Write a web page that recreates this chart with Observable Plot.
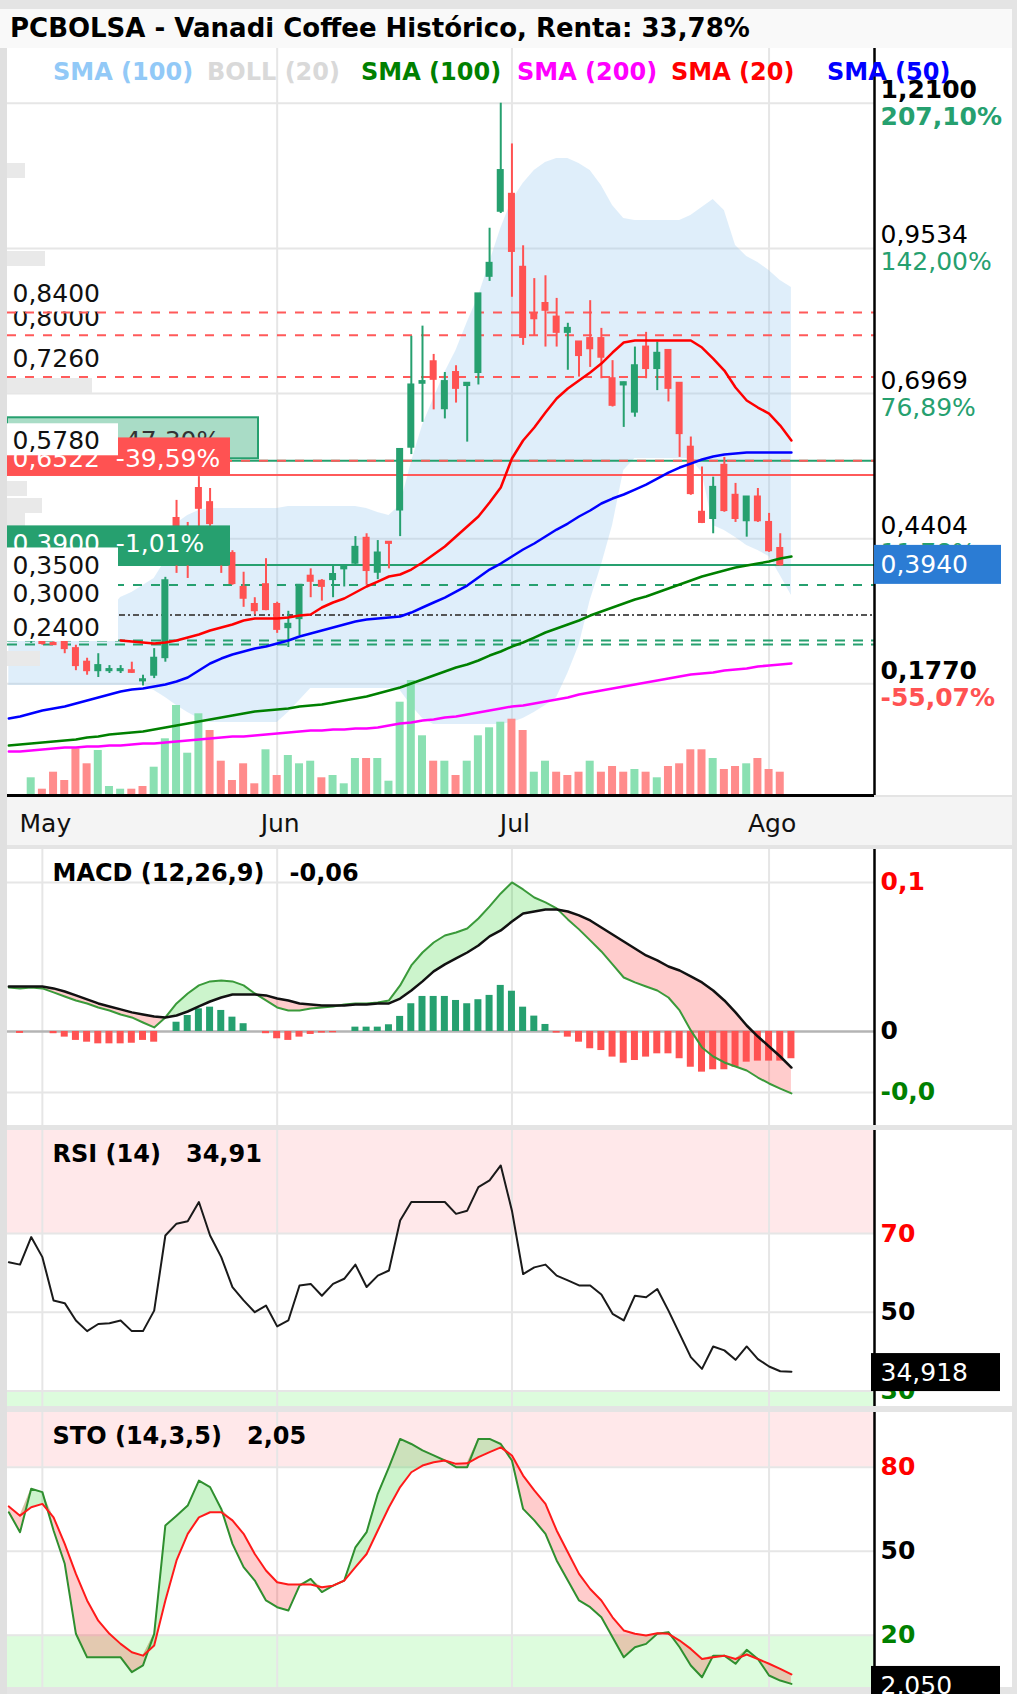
<!DOCTYPE html>
<html><head><meta charset="utf-8">
<script src="https://cdn.jsdelivr.net/npm/d3@7"></script>
<script src="https://cdn.jsdelivr.net/npm/@observablehq/plot@0.6"></script>
<style>
html,body{margin:0;padding:0;background:#e4e4e4;}
#page{position:relative;width:1017px;height:1694px;overflow:hidden;background:#e4e4e4;font-family:"DejaVu Sans",sans-serif;}
.panel{position:absolute;left:0;width:1017px;background:#fff;}
.panel svg{position:absolute;left:0;top:0;}
.leg{position:absolute;top:57px;font:bold 24px/30px "DejaVu Sans";white-space:nowrap;}
</style></head><body><div id="page"></div>
<script>
// ---------------- DATA ----------------
const titleText = "PCBOLSA - Vanadi Coffee Histórico, Renta: 33,78%";
const legendItems = ["SMA (100)", "BOLL (20)", "SMA (100)", "SMA (200)", "SMA (20)", "SMA (50)"];
const legendColors = ["#92c9f7", "#d9d9d9", "#008000", "#ff00ff", "#ff0000", "#0000ff"];

const tickIdx = [1, 22, 43, 66];
const tickLabels = ["May", "Jun", "Jul", "Ago"];

const priceTicks = [1.21, 0.9534, 0.6969, 0.4404, 0.1838];
const priceTickLabels = ["1,2100", "0,9534", "0,6969", "0,4404", "0,1770"];
const pctLabels = ["207,10%", "142,00%", "76,89%", "11,78%", "-55,07%"];
const lastPrice = 0.394;
const lastPriceLabel = "0,3940";

const redDashLevels = [0.84, 0.80, 0.726];
const targetLevel = 0.578;
const redSolidLevel = 0.553;
const greenDashLevel = 0.3585;
const darkDotLevel = 0.3055;
const greenDoubleLevels = [0.2604, 0.2533];
const leftTexts = ["0,8400", "0,8000", "0,7260", "0,5780", "0,3500", "0,3000", "0,2400"];
const tagTexts = ["0,7476\u00a0\u00a0-47,30%", "0,6522\u00a0\u00a0-39,59%", "0,3900\u00a0\u00a0-1,01%"];
const ghostLevels = [1.091, 0.9355, 0.7111, 0.529, 0.499, 0.4724, 0.2286];

// daily candles (index 0 = 30 Apr ... 67 = 4 Aug)
const opens = [0.262,0.265,0.255,0.258,0.246,0.222,0.207,0.207,0.207,0.207,
 0.189,0.199,0.230,0.476,0.455,0.529,0.504,0.437,0.414,0.354,
 0.324,0.359,0.324,0.283,0.299,0.374,0.365,0.368,0.387,0.397,
 0.441,0.381,0.434,0.491,0.602,0.715,0.753,0.670,0.734,0.711,
 0.734,0.904,1.019,1.049,0.920,0.838,0.856,0.832,0.805,0.788,
 0.794,0.794,0.723,0.712,0.664,0.779,0.741,0.773,0.715,0.602,
 0.487,0.476,0.570,0.517,0.472,0.514,0.469,0.423];
const highs = [0.268,0.268,0.258,0.262,0.252,0.229,0.237,0.216,0.216,0.222,
 0.199,0.246,0.372,0.508,0.469,0.550,0.529,0.455,0.419,0.381,
 0.336,0.405,0.328,0.312,0.359,0.387,0.368,0.393,0.393,0.444,
 0.449,0.437,0.434,0.598,0.798,0.816,0.766,0.734,0.746,0.715,
 0.873,0.989,1.210,1.138,0.958,0.900,0.905,0.865,0.821,0.788,
 0.861,0.812,0.755,0.717,0.779,0.805,0.788,0.773,0.715,0.620,
 0.567,0.549,0.584,0.538,0.514,0.529,0.485,0.449];
const lows = [0.255,0.252,0.252,0.237,0.207,0.199,0.195,0.202,0.202,0.202,
 0.180,0.193,0.222,0.379,0.370,0.455,0.458,0.379,0.358,0.319,
 0.306,0.313,0.273,0.248,0.269,0.336,0.330,0.336,0.355,0.393,
 0.358,0.368,0.387,0.444,0.589,0.646,0.668,0.652,0.680,0.611,
 0.712,0.895,1.015,0.867,0.782,0.799,0.779,0.779,0.738,0.726,
 0.743,0.723,0.673,0.637,0.655,0.723,0.702,0.682,0.584,0.517,
 0.467,0.449,0.487,0.469,0.443,0.469,0.416,0.392];
const closes = [0.265,0.255,0.253,0.246,0.216,0.207,0.216,0.209,0.209,0.204,
 0.191,0.229,0.366,0.437,0.411,0.494,0.467,0.411,0.361,0.335,
 0.313,0.315,0.280,0.289,0.358,0.365,0.356,0.377,0.390,0.425,
 0.384,0.415,0.432,0.598,0.712,0.718,0.722,0.718,0.706,0.715,
 0.873,0.927,1.091,0.948,0.796,0.829,0.844,0.805,0.812,0.764,
 0.776,0.761,0.676,0.716,0.746,0.741,0.768,0.706,0.626,0.520,
 0.469,0.531,0.490,0.476,0.514,0.472,0.419,0.394];
const volumes = [177,63,233,150,467,317,450,90,63,63,
 90,283,567,900,423,817,650,343,150,317,
 117,457,200,400,317,343,177,200,117,370,
 370,370,143,933,1150,597,343,343,200,343,
 597,677,733,763,650,233,343,233,200,233,
 343,233,290,233,260,233,177,290,317,457,
 457,370,260,290,317,370,260,233];
const volumeUp = [1,0,0,0,0,0,1,1,1,0, 0,1,1,1,1,1,0,0,0,0, 0,1,0,1,1,1,0,1,1,1,
 0,1,1,1,1,1,0,1,0,1, 1,1,1,0,0,1,1,0,0,0, 1,0,0,0,1,0,1,0,0,0, 0,1,0,0,1,0,0,0];

// indicator series, index -2 ... 68
const sma20Start = 8;
const sma20 = [0.2603,0.2586,0.2568,0.2550,0.2568,0.2603,0.2656,0.2709,0.2780,0.2833,
 0.2886,0.2957,0.2992,0.2992,0.2992,0.3010,0.3045,0.3063,0.3187,0.3275,
 0.3346,0.3452,0.3558,0.3646,0.3735,0.3770,0.3858,0.3982,0.4123,0.4265,
 0.4441,0.4618,0.4795,0.5042,0.5307,0.5820,0.6138,0.6368,0.6633,0.6880,
 0.7057,0.7198,0.7340,0.7499,0.7693,0.7870,0.7905,0.7905,0.7905,0.7905,
 0.7905,0.7905,0.7782,0.7587,0.7375,0.7075,0.6845,0.6721,0.6615,0.6403,0.6138];
const sma50 = [0.1225,0.1260,0.1313,0.1366,0.1402,0.1437,0.1490,0.1543,0.1596,0.1649,
 0.1702,0.1738,0.1755,0.1790,0.1826,0.1879,0.1950,0.2073,0.2197,0.2285,
 0.2356,0.2409,0.2462,0.2497,0.2550,0.2603,0.2674,0.2727,0.2780,0.2833,
 0.2886,0.2939,0.2975,0.2992,0.3010,0.3028,0.3098,0.3187,0.3275,0.3363,
 0.3469,0.3575,0.3717,0.3858,0.3964,0.4088,0.4212,0.4318,0.4441,0.4565,
 0.4671,0.4795,0.4901,0.5025,0.5113,0.5184,0.5272,0.5360,0.5466,0.5572,
 0.5661,0.5731,0.5802,0.5855,0.5891,0.5908,0.5926,0.5926,0.5926,0.5926,0.5926];
const sma100 = [0.0747,0.0765,0.0783,0.0800,0.0818,0.0836,0.0853,0.0889,0.0907,0.0942,
 0.0960,0.0977,0.0995,0.1030,0.1066,0.1101,0.1136,0.1172,0.1207,0.1242,
 0.1278,0.1313,0.1349,0.1366,0.1384,0.1402,0.1437,0.1455,0.1472,0.1508,
 0.1543,0.1578,0.1614,0.1667,0.1720,0.1773,0.1843,0.1914,0.1985,0.2055,
 0.2126,0.2179,0.2250,0.2338,0.2409,0.2497,0.2568,0.2656,0.2745,0.2815,
 0.2886,0.2957,0.3045,0.3116,0.3187,0.3257,0.3328,0.3381,0.3452,0.3522,
 0.3593,0.3664,0.3734,0.3787,0.3840,0.3893,0.3929,0.3964,0.4000,0.4052,0.4088];
const sma200 = [0.0641,0.0641,0.0659,0.0676,0.0694,0.0712,0.0712,0.0730,0.0730,0.0747,
 0.0747,0.0765,0.0783,0.0783,0.0800,0.0818,0.0836,0.0853,0.0871,0.0889,
 0.0907,0.0907,0.0924,0.0942,0.0960,0.0977,0.0995,0.1013,0.1013,0.1030,
 0.1030,0.1048,0.1048,0.1066,0.1101,0.1136,0.1154,0.1190,0.1207,0.1242,
 0.1260,0.1295,0.1331,0.1366,0.1402,0.1437,0.1455,0.1490,0.1525,0.1561,
 0.1596,0.1649,0.1684,0.1720,0.1755,0.1790,0.1826,0.1861,0.1896,0.1932,
 0.1967,0.2002,0.2020,0.2038,0.2073,0.2091,0.2109,0.2144,0.2162,0.2179,0.2197];
const bollUpper = [0.2692,0.2674,0.2657,0.2639,0.2604,0.2586,0.2604,0.2674,0.2869,0.3134,
 0.3363,0.3452,0.3576,0.3699,0.4018,0.4671,0.4813,0.4901,0.4937,0.4937,
 0.4937,0.4937,0.4937,0.4937,0.4937,0.4972,0.4972,0.4972,0.4972,0.4972,
 0.4972,0.4972,0.4937,0.4866,0.4813,0.4990,0.5750,0.6404,0.6881,0.7340,
 0.7729,0.8224,0.8684,0.9284,0.9885,1.0380,1.0681,1.0910,1.1052,1.1122,
 1.1122,1.1034,1.0910,1.0645,1.0292,1.0062,1.0027,1.0027,1.0027,1.0027,
 1.0027,1.0115,1.0257,1.0398,1.0204,0.9585,0.9390,0.9284,0.9143,0.8966,0.8843];
const bollLower = [0.1808,0.1808,0.1808,0.1808,0.1808,0.1808,0.1808,0.1808,0.1808,0.1808,
 0.1808,0.1808,0.1808,0.1720,0.1596,0.1455,0.1331,0.1225,0.1154,0.1154,
 0.1154,0.1154,0.1154,0.1154,0.1154,0.1331,0.1543,0.1755,0.1755,0.1755,
 0.1755,0.1755,0.1755,0.1755,0.1755,0.1720,0.1455,0.1225,0.1119,0.1119,
 0.1119,0.1119,0.1119,0.1119,0.1119,0.1154,0.1225,0.1331,0.1455,0.1596,
 0.2020,0.2515,0.3311,0.3929,0.4636,0.5608,0.5820,0.5820,0.5820,0.5820,
 0.5820,0.5820,0.5573,0.4636,0.4548,0.4424,0.4283,0.4194,0.4088,0.3752,0.3399];
const macd = [0.0295,0.0289,0.0295,0.0289,0.0262,0.0235,0.0208,0.0188,0.0161,0.0141,
 0.0114,0.0094,0.0060,0.0027,0.0094,0.0188,0.0255,0.0309,0.0336,0.0342,
 0.0336,0.0309,0.0255,0.0208,0.0161,0.0141,0.0141,0.0154,0.0161,0.0168,
 0.0181,0.0188,0.0188,0.0195,0.0208,0.0309,0.0443,0.0530,0.0597,0.0644,
 0.0664,0.0691,0.0758,0.0839,0.0926,0.1000,0.0953,0.0899,0.0866,0.0826,
 0.0752,0.0685,0.0611,0.0537,0.0450,0.0362,0.0329,0.0302,0.0275,0.0228,
 0.0141,0.0007,-0.0107,-0.0168,-0.0208,-0.0235,-0.0262,-0.0309,-0.0349,-0.0383,-0.0416];
const signal = [0.0302,0.0302,0.0302,0.0302,0.0289,0.0268,0.0242,0.0215,0.0188,0.0168,
 0.0148,0.0128,0.0114,0.0101,0.0094,0.0107,0.0134,0.0168,0.0201,0.0228,
 0.0248,0.0248,0.0248,0.0242,0.0221,0.0208,0.0188,0.0181,0.0174,0.0174,
 0.0174,0.0181,0.0181,0.0188,0.0188,0.0221,0.0275,0.0336,0.0403,0.0450,
 0.0490,0.0530,0.0577,0.0638,0.0678,0.0738,0.0792,0.0805,0.0819,0.0819,
 0.0805,0.0779,0.0745,0.0698,0.0651,0.0604,0.0557,0.0510,0.0477,0.0436,
 0.0409,0.0369,0.0329,0.0275,0.0208,0.0128,0.0040,-0.0034,-0.0101,-0.0168,-0.0242];
const histogram = [0,-0.0013,0,0,-0.0015,-0.0038,-0.0060,-0.0072,-0.0083,-0.0083,
 -0.0083,-0.0079,-0.0060,-0.0072,0,0.0062,0.0107,0.0152,0.0163,0.0141,
 0.0096,0.0052,0,-0.0015,-0.0049,-0.0060,-0.0038,-0.0020,-0.0011,-0.0009,
 0,0.0029,0.0029,0.0029,0.0045,0.0101,0.0186,0.0235,0.0235,0.0235,
 0.0208,0.0186,0.0213,0.0242,0.0309,0.0270,0.0163,0.0103,0.0047,-0.0011,
 -0.0038,-0.0072,-0.0116,-0.0128,-0.0172,-0.0213,-0.0195,-0.0172,-0.0150,-0.0150,
 -0.0183,-0.0240,-0.0273,-0.0257,-0.0257,-0.0240,-0.0206,-0.0199,-0.0199,-0.0199,-0.0183];
const rsi = [62.7,62.1,69.1,64.0,53.0,52.3,47.9,45.2,47.0,47.2,
 47.9,45.2,45.2,50.4,69.5,72.5,73.1,78.0,69.5,64.0,
 56.4,53.0,50.0,51.7,46.4,47.9,56.8,57.2,54.2,57.2,
 58.5,62.1,56.4,59.3,60.6,73.3,78.0,78.0,78.0,78.0,
 75.0,75.8,81.8,83.5,87.3,75.8,59.7,61.4,62.1,59.3,
 58.1,56.8,56.8,54.5,49.6,47.9,54.2,53.8,55.9,50.4,
 44.5,38.6,35.6,41.3,40.3,37.9,41.3,38.1,36.2,35.0,34.9];
const stoK = [63.9,56.8,72.3,71.1,57.4,45.5,20.5,12.1,12.1,12.1,
 12.1,6.8,9.2,20.5,59.2,62.7,66.3,75.2,72.9,65.1,
 52.6,44.3,39.5,32.4,30.0,28.8,37.7,40.1,35.4,37.7,
 39.5,51.4,56.8,70.5,80.0,90.1,88.3,86.0,84.2,82.4,
 80.0,80.0,90.1,90.1,88.3,82.4,65.1,61.0,56.2,46.7,
 39.5,32.4,30.0,26.4,19.3,12.1,15.7,16.9,20.5,21.1,
 15.7,9.2,5.0,12.7,12.7,9.8,14.8,11.5,5.6,3.8,2.6];
const stoD = [66.0,62.7,65.7,66.9,62.1,52.6,41.9,32.4,25.2,20.5,
 16.9,13.9,12.7,16.3,32.4,46.7,56.2,62.1,63.9,63.9,
 61.0,56.2,49.0,43.1,38.9,38.1,38.1,38.1,37.1,37.7,
 39.5,44.3,49.0,57.4,65.7,72.9,78.2,80.6,81.8,82.4,
 81.2,81.4,83.6,85.4,87.1,84.2,77.0,71.7,66.9,57.4,
 49.6,41.9,36.5,32.4,26.4,21.7,20.5,19.9,20.7,20.5,
 18.1,15.1,11.5,12.1,12.7,11.5,13.1,11.5,9.8,8.0,6.0];

const macdTitle = "MACD (12,26,9)\u00a0\u00a0\u00a0-0,06";
const macdTicks = [0.1, 0, -0.0409];
const macdTickLabels = ["0,1", "0", "-0,0"];
const rsiTitle = "RSI (14)\u00a0\u00a0\u00a034,91";
const rsiLevels = [70, 50, 30];
const rsiLast = 34.918, rsiLastLabel = "34,918";
const stoTitle = "STO (14,3,5)\u00a0\u00a0\u00a02,05";
const stoLevels = [80, 50, 20];
const stoLast = 2.05, stoLastLabel = "2,050";

// ---------------- BUILD ----------------
const GREEN = "#26a06f", RED = "#ff5252";
const xDom = [-2.12, 75.43];
const priceDom = [-0.0136, 1.3067];
const volDom = [0, 7470];
const macdDom = [-0.0631, 0.1221];
const rsiDom = [26.04, 96.18];
const stoDom = [1.32, 99.54];
const GRID = "#e6e6e6";
const FONT = "DejaVu Sans";

const candles = opens.map((o, k) => ({i: k, o, h: highs[k], l: lows[k], c: closes[k]}));
const vols = volumes.map((v, k) => ({i: k, v, up: volumeUp[k]}));
const seriesIdx = d3.range(-2, 69);
const ind = seriesIdx.map((i, k) => ({i, s50: sma50[k], s100: sma100[k], s200: sma200[k],
  up: bollUpper[k], lo: bollLower[k], m: macd[k], sg: signal[k], h: histogram[k],
  rsi: rsi[k], k: stoK[k], d: stoD[k]}));
const s20 = sma20.map((v, k) => ({i: sma20Start + k, v}));

const page = document.getElementById("page");
function div(style, parent = page) { const d = document.createElement("div"); Object.assign(d.style, style); parent.appendChild(d); return d; }
function plot(height, domain, marks, mb = 0) {
  return Plot.plot({
    width: 1017, height, marginLeft: 7, marginRight: 143, marginTop: 0, marginBottom: mb,
    x: {domain: xDom, axis: null},
    y: domain ? {domain, axis: null} : undefined,
    color: {type: "identity"},
    style: {background: "transparent", fontFamily: FONT, overflow: "hidden"},
    marks
  });
}
function leftBox(level, w, top, bot, fill, stroke) {
  return Plot.rect([level], {x1: xDom[0], x2: xDom[0], y1: d => d, y2: d => d,
    insetRight: -w, insetTop: -top, insetBottom: bot, fill, stroke: stroke || "none", strokeWidth: 2});
}
function leftText(level, txt, dy, fill = "#111", weight = "normal") {
  return Plot.text([level], {y: d => d, text: [txt], frameAnchor: "left", dx: 5, dy, textAnchor: "start",
    lineAnchor: "middle", fill, fontSize: 25, fontWeight: weight, fontFamily: FONT});
}
function rightText(levels, labels, opts) {
  return Plot.text(levels, {y: d => d, text: (d, k) => labels[k], frameAnchor: "right", dx: 6,
    textAnchor: "start", lineAnchor: "middle", fontSize: 25, fontFamily: FONT, ...opts});
}
function rightBox(level, top, bot, fill) {
  return Plot.rect([level], {x1: xDom[1], x2: xDom[1], y1: d => d, y2: d => d,
    insetLeft: -3, insetRight: -126, insetTop: -top, insetBottom: bot, fill});
}
function panelTitle(txt) {
  return Plot.text([txt], {text: d => d, frameAnchor: "top-left", dx: 45, dy: 24, lineAnchor: "middle",
    textAnchor: "start", fontSize: 24, fontWeight: "bold", fontFamily: FONT, fill: "#000"});
}
const cColor = d => d.c >= d.o ? GREEN : RED;

// title
const t = div({position: "absolute", left: "0px", top: "9px", width: "1017px", height: "39px", background: "#f9f9f9",
  font: 'bold 26px/39px "DejaVu Sans"', paddingLeft: "10px", boxSizing: "border-box", color: "#000", whiteSpace: "nowrap"});
t.textContent = titleText;

// price panel
const pricePanel = div({position: "absolute", left: "0px", top: "48px", width: "1017px", height: "747px", background: "#fff"});
const layer1 = plot(750, priceDom, [
  Plot.ruleX(tickIdx.slice(1), {x: d => d, stroke: GRID, strokeWidth: 2}),
  Plot.ruleY(priceTicks, {y: d => d, stroke: GRID, strokeWidth: 2}),
  Plot.areaY(ind, {x: "i", y1: "lo", y2: "up", fill: "rgb(150,200,240)", fillOpacity: 0.3})
], 3);
const layer2 = plot(750, volDom, [
  Plot.rect(vols, {x1: "i", x2: "i", y1: 0, y2: "v", insetLeft: -4, insetRight: -4,
    fill: d => d.up ? "#8ae0b2" : "#ff8c8c"})
], 3);
const layer3 = plot(750, priceDom, [
  leftText(redDashLevels[1], leftTexts[1], -17),
  leftBox(redDashLevels[0], 111, 37, 0.5, "#fff"),
  leftText(redDashLevels[0], leftTexts[0], -19),
  leftText(redDashLevels[2], leftTexts[2], -18.5),
  Plot.ruleY(redDashLevels, {y: d => d, stroke: "#ff5a5a", strokeWidth: 2, strokeDasharray: "9,9"}),
  Plot.ruleY([targetLevel], {y: d => d, stroke: GREEN, strokeWidth: 2}),
  Plot.ruleY([targetLevel], {y: d => d, stroke: "#ff5a5a", strokeWidth: 2, strokeDasharray: "9,9"}),
  Plot.ruleY([redSolidLevel], {y: d => d, stroke: "#ff5a5a", strokeWidth: 2}),
  Plot.ruleY([lastPrice], {y: d => d, stroke: GREEN, strokeWidth: 2}),
  Plot.ruleY([greenDashLevel], {y: d => d, stroke: GREEN, strokeWidth: 2, strokeDasharray: "9,9"}),
  Plot.ruleY([darkDotLevel], {y: d => d, stroke: "#555", strokeWidth: 2, strokeDasharray: "6,3,2,3"}),
  Plot.ruleY(greenDoubleLevels, {y: d => d, stroke: GREEN, strokeWidth: 2, strokeDasharray: "10,8"}),
  Plot.ruleX(candles, {x: "i", y1: "l", y2: "h", stroke: cColor, strokeWidth: 2}),
  Plot.rect(candles, {x1: "i", x2: "i", y1: "o", y2: "c", fill: cColor,
    insetLeft: -3.5, insetRight: -3.5, insetTop: -1, insetBottom: -1}),
  Plot.line(ind, {x: "i", y: "s200", stroke: "#ff00ff", strokeWidth: 2.5}),
  Plot.line(ind, {x: "i", y: "s100", stroke: "#008000", strokeWidth: 2.5}),
  Plot.line(ind, {x: "i", y: "s50", stroke: "#0000ff", strokeWidth: 2.5}),
  Plot.line(s20, {x: "i", y: "v", stroke: "#ff0000", strokeWidth: 2.5}),
  ...ghostLevels.map((g, k) => leftBox(g, [18, 38, 85, 20, 35, 18, 33][k], 7, -8, "#e9e9e9")),
  leftBox(targetLevel, 251, 43, 2, "#a9dcc6", GREEN),
  leftText(targetLevel, tagTexts[0], -20, "#333"),
  leftBox(redSolidLevel, 223, 37, -1, RED),
  leftText(redSolidLevel, tagTexts[1], -16, "#fff"),
  leftBox(targetLevel, 111, 37, 5, "#fff"),
  leftText(targetLevel, leftTexts[3], -20),
  leftBox(lastPrice, 223, 39, -1, GREEN),
  leftText(lastPrice, tagTexts[2], -21, "#fff"),
  leftBox(greenDashLevel, 111, 37, 2, "#fff"),
  leftBox(darkDotLevel, 111, 33, 1, "#fff"),
  leftBox(greenDoubleLevels[0], 111, 29, -1, "#fff"),
  leftText(greenDashLevel, leftTexts[4], -19),
  leftText(darkDotLevel, leftTexts[5], -21),
  leftText(greenDoubleLevels[0], leftTexts[6], -12),
  rightText(priceTicks, priceTickLabels, {dy: -13, fill: "#000", filter: (d, k) => k > 0 && k < 4}),
  rightText(priceTicks, priceTickLabels, {dy: -13, fill: "#000", fontWeight: "bold", filter: (d, k) => k === 0 || k === 4}),
  rightText(priceTicks, pctLabels, {dy: 14, fill: GREEN, filter: (d, k) => k > 0 && k < 4}),
  rightText(priceTicks, pctLabels, {dy: 14, fill: d => d < lastPrice ? RED : GREEN, fontWeight: "bold", filter: (d, k) => k === 0 || k === 4}),
  Plot.ruleX([xDom[1]], {x: d => d, stroke: "#000", strokeWidth: 2.5}),
  Plot.ruleY([priceDom[0]], {y: d => d, stroke: "#000", strokeWidth: 3}),
  Plot.rect([lastPrice], {x1: xDom[1], x2: xDom[1], y1: d => d, y2: d => d, insetLeft: 0, insetRight: -127,
    insetTop: -19.5, insetBottom: -19.5, fill: "#2b7cd4"}),
  rightText([lastPrice], [lastPriceLabel], {fill: "#fff"})
], 3);
[layer1, layer2, layer3].forEach(s => { s.style.position = "absolute"; s.style.left = "0px"; s.style.top = "0px"; pricePanel.appendChild(s); });

// legend
legendItems.forEach((txt, k) => {
  const el = div({left: [53, 207, 361, 517, 671, 827][k] + "px", color: legendColors[k]});
  el.className = "leg"; el.textContent = txt;
});

// x axis band
const axisBand = div({position: "absolute", left: "0px", top: "797px", width: "1017px", height: "48px", background: "#f4f4f4"});
const axisSvg = plot(48, null, [
  Plot.text(tickIdx, {x: d => d, text: (d, k) => tickLabels[k], frameAnchor: "middle", dx: 3, dy: 2,
    fontSize: 25, fontFamily: FONT, fill: "#111"})
]);
axisBand.appendChild(axisSvg);

// MACD panel
const macdPanel = div({position: "absolute", left: "0px", top: "849px", width: "1017px", height: "276px", background: "#fff"});
macdPanel.appendChild(plot(276, macdDom, [
  Plot.ruleX(tickIdx, {x: d => d, stroke: GRID, strokeWidth: 2}),
  Plot.ruleY([macdTicks[0], macdTicks[2]], {y: d => d, stroke: GRID, strokeWidth: 2}),
  Plot.ruleY([0], {y: d => d, stroke: "#b4b4b4", strokeWidth: 2.5}),
  Plot.areaY(ind, {x: "i", y1: "sg", y2: d => Math.max(d.m, d.sg), fill: "rgb(0,200,0)", fillOpacity: 0.2}),
  Plot.areaY(ind, {x: "i", y1: "m", y2: d => Math.max(d.m, d.sg), fill: "rgb(255,0,0)", fillOpacity: 0.2}),
  Plot.rect(ind, {x1: "i", x2: "i", y1: 0, y2: "h", insetLeft: -3.5, insetRight: -3.5, fill: d => d.h >= 0 ? GREEN : RED}),
  Plot.line(ind, {x: "i", y: "m", stroke: "#3a9a3a", strokeWidth: 2}),
  Plot.line(ind, {x: "i", y: "sg", stroke: "#111", strokeWidth: 2.5}),
  panelTitle(macdTitle),
  rightText([macdTicks[0]], [macdTickLabels[0]], {fill: "#ff0000", fontWeight: "bold"}),
  rightText([macdTicks[1]], [macdTickLabels[1]], {fill: "#000", fontWeight: "bold"}),
  rightText([macdTicks[2]], [macdTickLabels[2]], {fill: "#008000", fontWeight: "bold"}),
  Plot.ruleX([xDom[1]], {x: d => d, stroke: "#000", strokeWidth: 2.5})
]));

// RSI panel
const rsiPanel = div({position: "absolute", left: "0px", top: "1130px", width: "1017px", height: "276px", background: "#fff"});
rsiPanel.appendChild(plot(276, rsiDom, [
  Plot.rect([0], {x1: xDom[0], x2: xDom[1], y1: rsiLevels[0], y2: rsiDom[1], fill: "#ffe8ea"}),
  Plot.rect([0], {x1: xDom[0], x2: xDom[1], y1: rsiDom[0], y2: rsiLevels[2], fill: "#ddfcdd"}),
  Plot.ruleX(tickIdx, {x: d => d, stroke: GRID, strokeWidth: 2}),
  Plot.ruleY(rsiLevels, {y: d => d, stroke: GRID, strokeWidth: 2}),
  Plot.line(ind, {x: "i", y: "rsi", stroke: "#1a1a1a", strokeWidth: 2}),
  panelTitle(rsiTitle),
  rightText([rsiLevels[0]], ["70"], {fill: "#ff0000", fontWeight: "bold"}),
  rightText([rsiLevels[1]], ["50"], {fill: "#000", fontWeight: "bold"}),
  rightText([rsiLevels[2]], ["30"], {fill: "#008000", fontWeight: "bold"}),
  Plot.ruleX([xDom[1]], {x: d => d, stroke: "#000", strokeWidth: 2.5}),
  rightBox(rsiLast, 18, -20, "#000"),
  rightText([rsiLast], [rsiLastLabel], {fill: "#fff", dy: 1})
]));

// STO panel
const stoPanel = div({position: "absolute", left: "0px", top: "1412px", width: "1017px", height: "275px", background: "#fff"});
const stoSvg = plot(282, stoDom, [
  Plot.rect([0], {x1: xDom[0], x2: xDom[1], y1: stoLevels[0], y2: stoDom[1], fill: "#ffe8ea"}),
  Plot.rect([0], {x1: xDom[0], x2: xDom[1], y1: stoDom[0], y2: stoLevels[2], fill: "#ddfcdd"}),
  Plot.ruleX(tickIdx, {x: d => d, stroke: GRID, strokeWidth: 2}),
  Plot.ruleY(stoLevels, {y: d => d, stroke: GRID, strokeWidth: 2}),
  Plot.areaY(ind, {x: "i", y1: "d", y2: d => Math.max(d.k, d.d), fill: "rgb(0,200,0)", fillOpacity: 0.2}),
  Plot.areaY(ind, {x: "i", y1: "k", y2: d => Math.max(d.k, d.d), fill: "rgb(255,0,0)", fillOpacity: 0.2}),
  Plot.line(ind, {x: "i", y: "k", stroke: "#2f8f2f", strokeWidth: 2}),
  Plot.line(ind, {x: "i", y: "d", stroke: "#ff1a1a", strokeWidth: 2}),
  panelTitle(stoTitle),
  rightText([stoLevels[0]], ["80"], {fill: "#ff0000", fontWeight: "bold"}),
  rightText([stoLevels[1]], ["50"], {fill: "#000", fontWeight: "bold"}),
  rightText([stoLevels[2]], ["20"], {fill: "#008000", fontWeight: "bold"}),
  Plot.ruleX([xDom[1]], {x: d => d, stroke: "#000", strokeWidth: 2.5}),
  rightBox(stoLast, 19, -19, "#000"),
  rightText([stoLast], [stoLastLabel], {fill: "#fff", dy: 1})
], 7);
stoPanel.appendChild(stoSvg);

// frame strips
div({position: "absolute", left: "0px", top: "48px", width: "7px", height: "1646px", background: "#e0e0e0"});
div({position: "absolute", left: "1012px", top: "0px", width: "5px", height: "1694px", background: "#e4e4e4"});
</script></body></html>
